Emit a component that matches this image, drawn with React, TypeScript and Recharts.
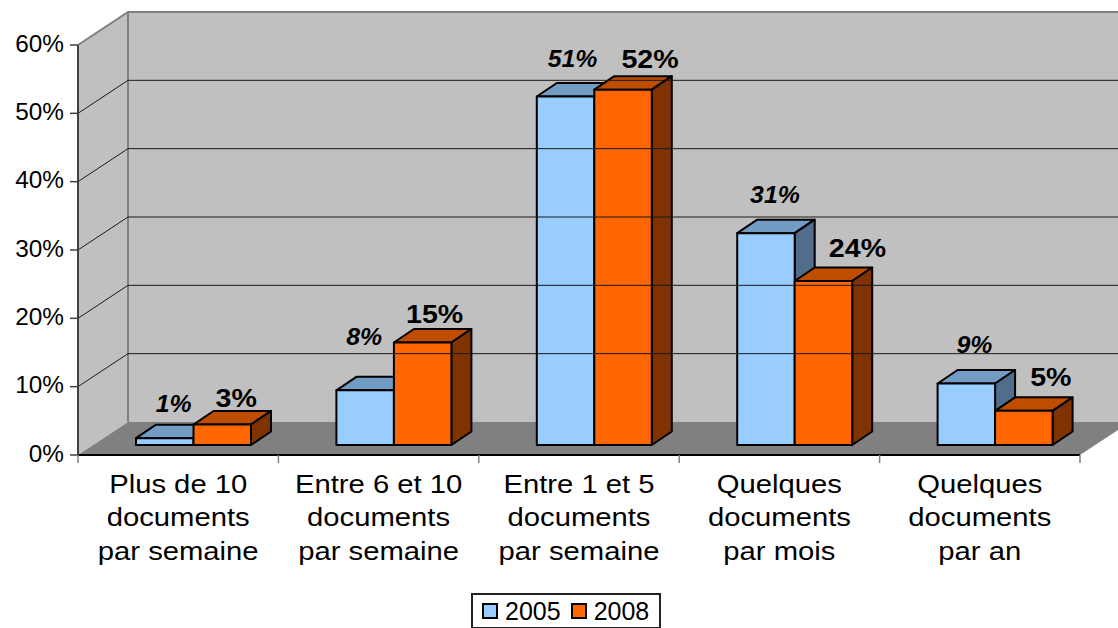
import { BarChart, Bar, XAxis, YAxis, Legend, LabelList, ReferenceArea, ReferenceLine } from "recharts";

// chart data
const categories = [
    ["Plus de 10", "documents", "par semaine"],
    ["Entre 6 et 10", "documents", "par semaine"],
    ["Entre 1 et 5", "documents", "par semaine"],
    ["Quelques", "documents", "par mois"],
    ["Quelques", "documents", "par an"],
];
const values2005 = [1, 8, 51, 31, 9];
const values2008 = [3, 15, 52, 24, 5];
const yTicks = [0, 10, 20, 30, 40, 50, 60];
const gridTicks = [10, 20, 30, 40, 50];

const tableData = categories.map((lines, i) => ({
    name: lines.join(" "),
    lines,
    y2005: values2005[i],
    y2008: values2008[i],
}));

// excel style perspective
const WALL_DX = 50;
const WALL_DY = -33;
const BAR_SHIFT_X = 15;
const BAR_SHIFT_Y = -10;
const BAR_DX = 20;
const BAR_DY = -13.5;
const TEXT_STRETCH = 1.17;

// hand placed data labels, relative to the bar centre and top
const nudge2005 = [[9, -34], [-1, -54], [7, -38], [9, -38], [8, -39]];
const nudge2008 = [[14, -27], [12, -29], [27, -31], [34, -33], [27, -34]];

function Walls(props: any) {
    const { x, y, width, height } = props;
    const bottom = y + height;
    const right = x + width;
    return (
        <g>
            <polygon
                points={`${x},${y} ${x + WALL_DX},${y + WALL_DY} ${x + WALL_DX},${bottom + WALL_DY} ${x},${bottom}`}
                fill="#C0C0C0"
            />
            <rect x={x + WALL_DX} y={y + WALL_DY} width={width + 20} height={height} fill="#C0C0C0" />
            <polygon
                points={`${x},${bottom} ${x + WALL_DX},${bottom + WALL_DY} ${right + WALL_DX},${bottom + WALL_DY} ${right},${bottom}`}
                fill="#808080"
            />
            <polyline
                points={`${x},${y} ${x + WALL_DX},${y + WALL_DY} ${right + WALL_DX},${y + WALL_DY}`}
                fill="none"
                stroke="#808080"
                strokeWidth={2}
            />
            <line x1={x + WALL_DX} y1={y + WALL_DY} x2={x + WALL_DX} y2={bottom + WALL_DY} stroke="#808080" strokeWidth={2} />
        </g>
    );
}

function GridLine(props: any) {
    const { x1, y1, x2, y2 } = props;
    return (
        <polyline
            points={`${x1},${y1} ${x1 + WALL_DX},${y1 + WALL_DY} ${x2 + WALL_DX + 20},${y2 + WALL_DY}`}
            fill="none"
            stroke="#1a1a1a"
            strokeWidth={1}
        />
    );
}

function Bar3D(props: any) {
    const { x, y, width, height, fill, topColor, sideColor } = props;
    const l = x + BAR_SHIFT_X;
    const t = y + BAR_SHIFT_Y;
    const r = l + width;
    const b = t + height;
    return (
        <g stroke="#000" strokeWidth={2} strokeLinejoin="round">
            <polygon points={`${l},${t} ${l + BAR_DX},${t + BAR_DY} ${r + BAR_DX},${t + BAR_DY} ${r},${t}`} fill={topColor} />
            <polygon points={`${r},${t} ${r + BAR_DX},${t + BAR_DY} ${r + BAR_DX},${b + BAR_DY} ${r},${b}`} fill={sideColor} />
            <rect x={l} y={t} width={width} height={height} fill={fill} />
        </g>
    );
}

function ValueLabel(props: any) {
    const { x, y, width, value, index, nudge, italic, size, stretch } = props;
    const cx = x + BAR_SHIFT_X + width / 2 + nudge[index][0];
    const cy = y + BAR_SHIFT_Y + nudge[index][1];
    return (
        <text
            transform={`translate(${cx},${cy}) scale(${stretch},1)`}
            textAnchor="middle"
            dominantBaseline="central"
            fontFamily="Liberation Sans"
            fontWeight="bold"
            fontStyle={italic ? "italic" : "normal"}
            fontSize={size}
            fill="#000"
        >
            {value}%
        </text>
    );
}

function CategoryTick(props: any) {
    const { x, payload, index, width, visibleTicksCount } = props;
    const band = width / visibleTicksCount;
    const lines = categories[index] || [];
    const left = x - band / 2;
    return (
        <g>
            <line x1={left} y1={455} x2={left} y2={463} stroke="#808080" strokeWidth={1.5} />
            {index === visibleTicksCount - 1 && (
                <line x1={left + band} y1={455} x2={left + band} y2={463} stroke="#808080" strokeWidth={1.5} />
            )}
            {lines.map((line: string, i: number) => (
                <text
                    key={payload.value + i}
                    transform={`translate(${x},${484 + i * 33.5}) scale(${TEXT_STRETCH},1)`}
                    textAnchor="middle"
                    dominantBaseline="central"
                    fontFamily="Liberation Sans"
                    fontSize={25}
                    fill="#000"
                >
                    {line}
                </text>
            ))}
        </g>
    );
}

function PercentTick(props: any) {
    const { y, payload } = props;
    return (
        <text
            transform={`translate(64,${y - 1}) scale(1.06,1)`}
            textAnchor="end"
            dominantBaseline="central"
            fontFamily="Liberation Sans"
            fontSize={23}
            fill="#000"
        >
            {payload.value}%
        </text>
    );
}

function LegendBox(props: any) {
    return (
        <div
            style={{
                boxSizing: "border-box",
                width: 190,
                height: 36,
                border: "2px solid #222",
                display: "flex",
                alignItems: "center",
                paddingLeft: 9,
                background: "#fff",
                fontFamily: "Liberation Sans",
                fontSize: 25,
                color: "#000",
            }}
        >
            {props.payload.map((item: any) => (
                <div key={item.value} style={{ display: "flex", alignItems: "center", marginRight: 10 }}>
                    <span
                        style={{
                            boxSizing: "border-box",
                            width: 16,
                            height: 16,
                            border: "2px solid #000",
                            background: item.color,
                            marginRight: 7,
                        }}
                    />
                    <span>{item.value}</span>
                </div>
            ))}
        </div>
    );
}

export default function App() {
    return (
        <div style={{ position: "absolute", left: 0, top: 0, width: 1118, height: 628, overflow: "hidden", background: "#fff" }}>
            <BarChart
                width={1118}
                height={628}
                data={tableData}
                margin={{ top: 45, right: 38, bottom: 0, left: 0 }}
                barSize={57.5}
                barGap={0}
            >
                <ReferenceArea y1={0} y2={60} ifOverflow="visible" shape={<Walls />} />
                {gridTicks.map((tick) => (
                    <ReferenceLine key={tick} y={tick} ifOverflow="visible" shape={<GridLine />} />
                ))}
                <XAxis
                    dataKey="name"
                    height={137}
                    interval={0}
                    tickLine={false}
                    axisLine={{ stroke: "#000", strokeWidth: 2 }}
                    tick={<CategoryTick />}
                />
                <YAxis
                    width={78}
                    domain={[0, 60]}
                    ticks={yTicks}
                    tickSize={8}
                    tickLine={{ stroke: "#404040", strokeWidth: 1.5 }}
                    axisLine={{ stroke: "#404040", strokeWidth: 2 }}
                    tick={<PercentTick />}
                />
                <Legend
                    layout="horizontal"
                    content={<LegendBox />}
                    wrapperStyle={{ position: "absolute", left: 471, top: 593, width: 190, height: 36, bottom: "auto" }}
                />
                <Bar
                    dataKey="y2005"
                    name="2005"
                    fill="#99CCFF"
                    isAnimationActive={false}
                    shape={(p: any) => <Bar3D {...p} topColor="#729CC4" sideColor="#526D8C" />}
                >
                    <LabelList dataKey="y2005" content={(p: any) => <ValueLabel {...p} nudge={nudge2005} italic size={23} stretch={1.08} />} />
                </Bar>
                <Bar
                    dataKey="y2008"
                    name="2008"
                    fill="#FF6600"
                    isAnimationActive={false}
                    shape={(p: any) => <Bar3D {...p} topColor="#BF4D00" sideColor="#803300" />}
                >
                    <LabelList dataKey="y2008" content={(p: any) => <ValueLabel {...p} nudge={nudge2008} size={26} stretch={1.1} />} />
                </Bar>
            </BarChart>
        </div>
    );
}
